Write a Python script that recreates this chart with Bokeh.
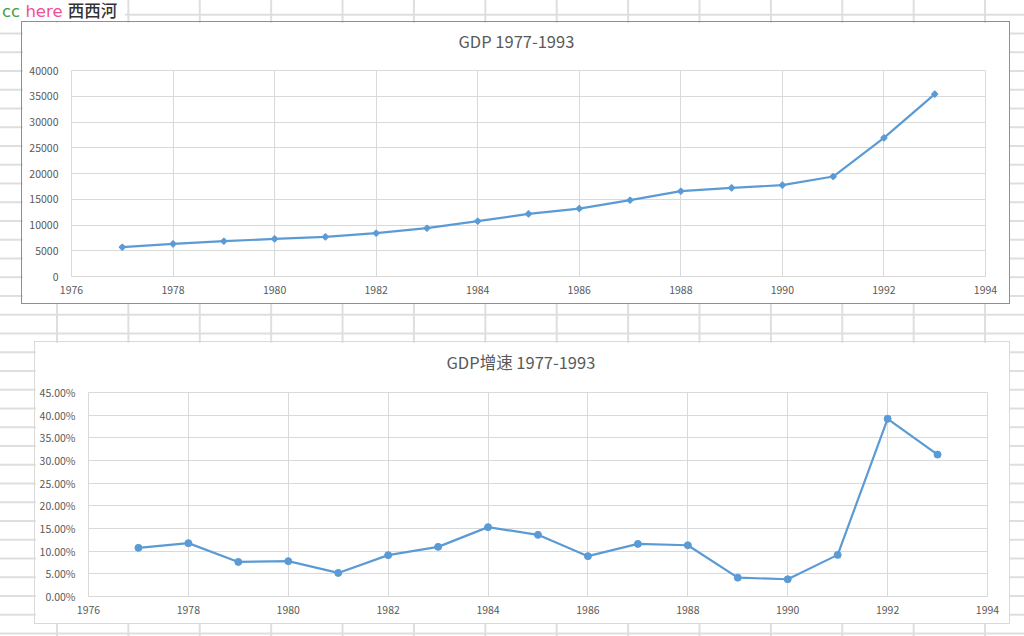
import math
from bokeh.plotting import figure
from bokeh.layouts import column, row
from bokeh.models import Div, Spacer, FixedTicker, PrintfTickFormatter, Title
from bokeh.embed import file_html
from bokeh.resources import INLINE

# ---- data ----
years = [1977, 1978, 1979, 1980, 1981, 1982, 1983, 1984, 1985,
         1986, 1987, 1988, 1989, 1990, 1991, 1992, 1993]
gdp = [5690, 6330, 6860, 7300, 7690, 8410, 9380, 10740, 12160,
       13190, 14820, 16570, 17210, 17740, 19410, 26920, 35410]
growth_pct = [10.73, 11.77, 7.63, 7.79, 5.20, 9.12, 10.95, 15.30, 13.60,
              8.90, 11.60, 11.30, 4.16, 3.80, 9.18, 39.20, 31.30]

x_ticks = [1976, 1978, 1980, 1982, 1984, 1986, 1988, 1990, 1992, 1994]
gdp_ticks = [0, 5000, 10000, 15000, 20000, 25000, 30000, 35000, 40000]
growth_ticks = [0, 5, 10, 15, 20, 25, 30, 35, 40, 45]

title1 = "GDP 1977-1993"
title2 = "GDP增速 1977-1993"

FONT = "Noto Sans CJK SC"
TXT = "#595959"
GRID = "#d9d9d9"
LINE = "#5b9bd5"


def style(p, yticks, yfmt, title, title_offset, gap):
    p.background_fill_color = "white"
    p.border_fill_color = "white"
    p.outline_line_color = GRID
    # invisible spacer closest to the frame, then the real title above it
    p.add_layout(Title(text=" ", text_font_size="1px", standoff=gap), "above")
    p.add_layout(Title(text=title, align="left", offset=title_offset, standoff=0,
                       vertical_align="bottom", text_font=FONT,
                       text_font_size="16.5px", text_font_style="normal",
                       text_color=TXT), "above")
    p.xaxis.ticker = FixedTicker(ticks=x_ticks)
    p.yaxis.ticker = FixedTicker(ticks=yticks)
    p.yaxis.formatter = PrintfTickFormatter(format=yfmt)
    p.xaxis.formatter = PrintfTickFormatter(format="%d")
    for ax in (p.xaxis, p.yaxis):
        ax.axis_line_color = None
        ax.major_tick_line_color = None
        ax.minor_tick_line_color = None
        ax.major_label_text_font = FONT
        ax.major_label_text_font_size = "10.5px"
        ax.major_label_text_color = TXT
    p.xaxis.major_label_standoff = 3
    p.yaxis.major_label_standoff = 7
    p.xgrid.ticker = FixedTicker(ticks=x_ticks)
    p.ygrid.ticker = FixedTicker(ticks=yticks)
    for g in (p.xgrid, p.ygrid):
        g.grid_line_color = GRID
        g.grid_line_width = 1


p1 = figure(width=989, height=283, x_range=(1976, 1994), y_range=(0, 40000),
            output_backend="svg", toolbar_location=None, title_location=None,
            min_border_left=49, min_border_right=26, min_border_top=48,
            min_border_bottom=29,
            styles={"border": "1px solid #8f8f8f"})
style(p1, gdp_ticks, "%d", title1, 387, 14.5)
p1.line(years, gdp, line_color=LINE, line_width=2.2)
p1.scatter(years, gdp, marker="square", angle=math.pi / 4, size=4.4,
           fill_color=LINE, line_color=LINE, line_width=1.2)

p2 = figure(width=976, height=283, x_range=(1976, 1994), y_range=(0, 45),
            output_backend="svg", toolbar_location=None, title_location=None,
            min_border_left=53, min_border_right=24, min_border_top=50,
            min_border_bottom=29,
            styles={"border": "1px solid #d9d9d9"})
style(p2, growth_ticks, "%.2f%%", title2, 358, 16)
p2.line(years, growth_pct, line_color=LINE, line_width=2.2)
p2.scatter(years, growth_pct, marker="circle", size=7, fill_color=LINE, line_color=LINE)

label = Div(
    text='<span style="color:#3f9f3f">cc</span> <span style="color:#f0509a">here</span> '
         '<span style="color:#333333;font-family:\'Noto Sans CJK SC\';font-weight:500">西西河</span>',
    width=125, height=21, margin=0,
    styles={"background-color": "white", "font-size": "16.5px", "line-height": "20px",
            "font-family": "'DejaVu Sans', 'Noto Sans CJK SC', sans-serif",
            "white-space": "nowrap", "padding-left": "2px", "overflow": "visible"})

sheet_bg = {
    "background-color": "white",
    "background-image": ("linear-gradient(to right, #dedede 2px, transparent 2px), "
                         "linear-gradient(to bottom, #dedede 2px, transparent 2px)"),
    "background-size": "71.4px 18.75px",
    "background-position": "56px 13.75px",
}

layout = column(
    label,
    row(Spacer(width=21, height=285, margin=0), p1, margin=0),
    Spacer(height=35, width=10, margin=0),
    row(Spacer(width=34, height=285, margin=0), p2, margin=0),
    width=1024, height=636, spacing=0, margin=0, styles=sheet_bg,
)

open("out.html", "w").write(file_html(layout, INLINE))
